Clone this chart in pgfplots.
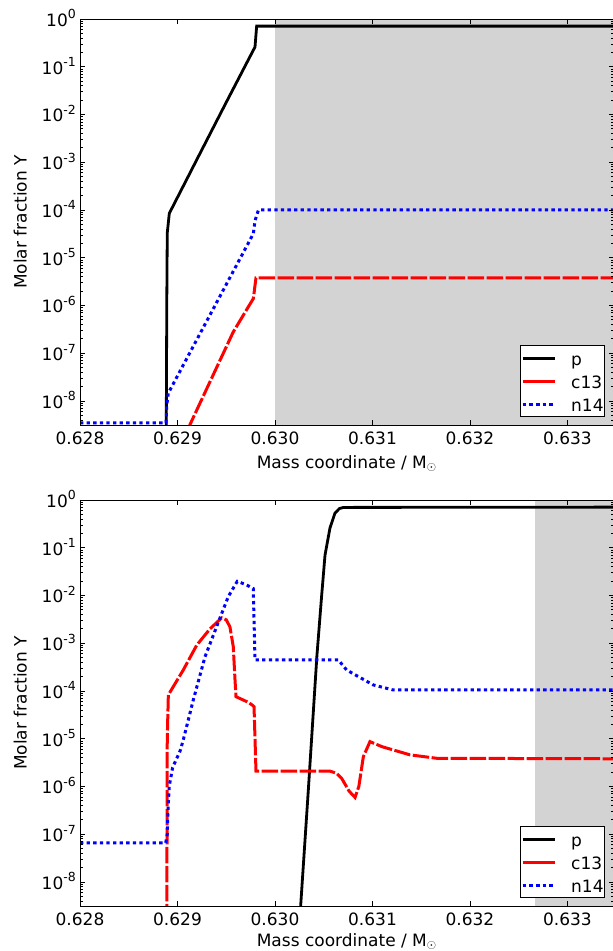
\documentclass[border=0pt]{standalone}
\usepackage{fontspec}
\setmainfont{DejaVu Sans}
\usepackage{pgfplots}
\pgfplotsset{compat=1.18}
\definecolor{shade}{RGB}{211,211,211}
\newcommand{\fnt}{\fontsize{17bp}{20bp}\selectfont}
\newcommand{\sx}[1]{10\raisebox{7.5bp}{\fontsize{12.5bp}{14bp}\selectfont #1}}
\begin{document}
\begin{tikzpicture}
\path[use as bounding box] (0,0) rectangle (613bp,-951bp);
% ---------------- top panel ----------------
\begin{axis}[
    at={(80bp,-19bp)}, anchor=north west,
    scale only axis, width=533.5bp, height=406bp,
    xmin=0.628, xmax=0.633472,
    ymode=log, ymin=3.14e-9, ymax=1,
    xtick={0.628,0.629,0.630,0.631,0.632,0.633},
    xticklabels={0.628,0.629,0.630,0.631,0.632,0.633},
    ytick={1e-8,1e-7,1e-6,1e-5,1e-4,1e-3,1e-2,1e-1,1},
    yticklabels={\sx{-8},\sx{-7},\sx{-6},\sx{-5},\sx{-4},\sx{-3},\sx{-2},\sx{-1},\sx{0}},
    minor ytick={4e-9,5e-9,6e-9,7e-9,8e-9,9e-9,
      2e-8,3e-8,4e-8,5e-8,6e-8,7e-8,8e-8,9e-8,
      2e-7,3e-7,4e-7,5e-7,6e-7,7e-7,8e-7,9e-7,
      2e-6,3e-6,4e-6,5e-6,6e-6,7e-6,8e-6,9e-6,
      2e-5,3e-5,4e-5,5e-5,6e-5,7e-5,8e-5,9e-5,
      2e-4,3e-4,4e-4,5e-4,6e-4,7e-4,8e-4,9e-4,
      2e-3,3e-3,4e-3,5e-3,6e-3,7e-3,8e-3,9e-3,
      2e-2,3e-2,4e-2,5e-2,6e-2,7e-2,8e-2,9e-2,
      2e-1,3e-1,4e-1,5e-1,6e-1,7e-1,8e-1,9e-1},
    tick align=inside,
    major tick length=5bp, minor tick length=2.7bp,
    every tick/.style={black, line width=0.8bp},
    axis line style={black, line width=1bp},
    tick label style={font=\fnt},
    xticklabel style={inner sep=0pt, anchor=north, yshift=-7bp},
    yticklabel style={inner sep=0pt, anchor=base east, xshift=-4bp, yshift=-7.3bp},
    label style={font=\fnt},
    xlabel={Mass coordinate / M$_\odot$},
    ylabel={Molar fraction Y},
    x label style={at={(axis description cs:0.5,-0.1059)}, anchor=base},
    y label style={at={(axis description cs:-0.1121,0.5)}, rotate=0, anchor=center},
    axis on top,
    legend cell align=left,
    legend style={at={(axis description cs:1,0)}, anchor=south east, xshift=-8.5bp, yshift=8bp,
      draw=black, line width=0.8bp, fill=white, inner xsep=1bp, inner ysep=2.5bp,
      row sep=3.2bp, column sep=15bp, font=\fnt,
      nodes={inner sep=0pt, text height=17bp, text depth=2.8bp}},
    legend image code/.code={\path (-7bp,0bp) -- (25bp,0bp); \draw[#1] (0bp,0bp) -- (25bp,0bp);},
]
\addplot[fill=shade, draw=none, forget plot] coordinates {(0.630,1e-10) (0.634,1e-10) (0.634,10) (0.630,10)} -- cycle;
\addplot[black, line width=2.8bp] coordinates {
 (0.62888,1e-11) (0.62889,1e-6) (0.628895,3.3e-5) (0.628916,8.5e-5)
 (0.629213,1.3e-3) (0.629500,1.8e-2) (0.629795,0.26) (0.629812,0.71) (0.6336,0.71)};
\addlegendentry{p}
\addplot[red, line width=3bp, dash pattern=on 16.5bp off 2.5bp] coordinates {
 (0.62905,1e-9) (0.629128,3.2e-9) (0.629572,2.8e-7) (0.629778,1.4e-6) (0.629805,3.8e-6) (0.6336,3.8e-6)};
\addlegendentry{c13}
\addplot[blue, line width=3bp, dash pattern=on 3.3bp off 3.3bp] coordinates {
 (0.628,3.5e-9) (0.628882,3.5e-9) (0.62889,8e-9) (0.628905,1.45e-8)
 (0.629778,3.2e-5) (0.629795,6e-5) (0.62983,1e-4) (0.6336,1e-4)};
\addlegendentry{n14}
\end{axis}
% ---------------- bottom panel ----------------
\begin{axis}[
    at={(80bp,-500bp)}, anchor=north west,
    scale only axis, width=533.5bp, height=406bp,
    xmin=0.628, xmax=0.633472,
    ymode=log, ymin=3.14e-9, ymax=1,
    xtick={0.628,0.629,0.630,0.631,0.632,0.633},
    xticklabels={0.628,0.629,0.630,0.631,0.632,0.633},
    ytick={1e-8,1e-7,1e-6,1e-5,1e-4,1e-3,1e-2,1e-1,1},
    yticklabels={\sx{-8},\sx{-7},\sx{-6},\sx{-5},\sx{-4},\sx{-3},\sx{-2},\sx{-1},\sx{0}},
    minor ytick={4e-9,5e-9,6e-9,7e-9,8e-9,9e-9,
      2e-8,3e-8,4e-8,5e-8,6e-8,7e-8,8e-8,9e-8,
      2e-7,3e-7,4e-7,5e-7,6e-7,7e-7,8e-7,9e-7,
      2e-6,3e-6,4e-6,5e-6,6e-6,7e-6,8e-6,9e-6,
      2e-5,3e-5,4e-5,5e-5,6e-5,7e-5,8e-5,9e-5,
      2e-4,3e-4,4e-4,5e-4,6e-4,7e-4,8e-4,9e-4,
      2e-3,3e-3,4e-3,5e-3,6e-3,7e-3,8e-3,9e-3,
      2e-2,3e-2,4e-2,5e-2,6e-2,7e-2,8e-2,9e-2,
      2e-1,3e-1,4e-1,5e-1,6e-1,7e-1,8e-1,9e-1},
    tick align=inside,
    major tick length=5bp, minor tick length=2.7bp,
    every tick/.style={black, line width=0.8bp},
    axis line style={black, line width=1bp},
    tick label style={font=\fnt},
    xticklabel style={inner sep=0pt, anchor=north, yshift=-7bp},
    yticklabel style={inner sep=0pt, anchor=base east, xshift=-4bp, yshift=-7.3bp},
    label style={font=\fnt},
    xlabel={Mass coordinate / M$_\odot$},
    ylabel={Molar fraction Y},
    x label style={at={(axis description cs:0.5,-0.0985)}, anchor=base},
    y label style={at={(axis description cs:-0.1121,0.5)}, rotate=0, anchor=center},
    axis on top,
    legend cell align=left,
    legend style={at={(axis description cs:1,0)}, anchor=south east, xshift=-8.5bp, yshift=8bp,
      draw=black, line width=0.8bp, fill=white, inner xsep=1bp, inner ysep=2.5bp,
      row sep=3.2bp, column sep=15bp, font=\fnt,
      nodes={inner sep=0pt, text height=17bp, text depth=2.8bp}},
    legend image code/.code={\path (-7bp,0bp) -- (25bp,0bp); \draw[#1] (0bp,0bp) -- (25bp,0bp);},
]
\addplot[fill=shade, draw=none, forget plot] coordinates {(0.632667,1e-10) (0.634,1e-10) (0.634,10) (0.632667,10)} -- cycle;
\addplot[black, line width=2.8bp] coordinates {
 (0.630215,1e-10) (0.630263,3.1e-9) (0.630342,8.5e-7) (0.630430,5.5e-4)
 (0.630479,1.02e-2) (0.630513,7e-2) (0.630564,0.26) (0.630615,0.53)
 (0.630660,0.66) (0.630701,0.70) (0.6336,0.71)};
\addlegendentry{p}
\addplot[red, line width=3bp, dash pattern=on 16.5bp off 2.5bp] coordinates {
 (0.628889,1e-10) (0.628895,1e-5) (0.628906,8.3e-5) (0.629059,2.75e-4)
 (0.629197,9.1e-4) (0.629333,2.0e-3) (0.629453,3.4e-3) (0.629500,3.1e-3)
 (0.629538,2.2e-3) (0.629572,8.5e-4) (0.629590,1.7e-4) (0.629600,7.6e-5)
 (0.629710,6.0e-5) (0.629760,5.2e-5) (0.629785,4.7e-5) (0.629805,2.1e-6)
 (0.630564,2.1e-6) (0.630630,1.9e-6) (0.630684,1.48e-6) (0.630760,8e-7)
 (0.630821,5.9e-7) (0.630860,1.0e-6) (0.630906,4.2e-6) (0.630974,8.7e-6)
 (0.631100,6.8e-6) (0.631385,4.6e-6) (0.631658,3.9e-6) (0.6336,3.8e-6)};
\addlegendentry{c13}
\addplot[blue, line width=3bp, dash pattern=on 3.3bp off 3.3bp] coordinates {
 (0.628,6.6e-8) (0.628879,6.6e-8) (0.628895,1.0e-7) (0.628905,4e-7)
 (0.628915,1e-6) (0.628950,2.5e-6) (0.629026,5.5e-6) (0.629059,9.4e-6)
 (0.629162,6.5e-5) (0.629282,5.2e-4) (0.629436,3.4e-3) (0.629521,9.5e-3)
 (0.629613,0.0198) (0.629700,0.017) (0.629777,0.014) (0.629795,4.5e-4)
 (0.630649,4.5e-4) (0.630735,2.75e-4) (0.631008,1.34e-4) (0.631213,1.05e-4)
 (0.6336,1.05e-4)};
\addlegendentry{n14}
\end{axis}
\end{tikzpicture}
\end{document}
